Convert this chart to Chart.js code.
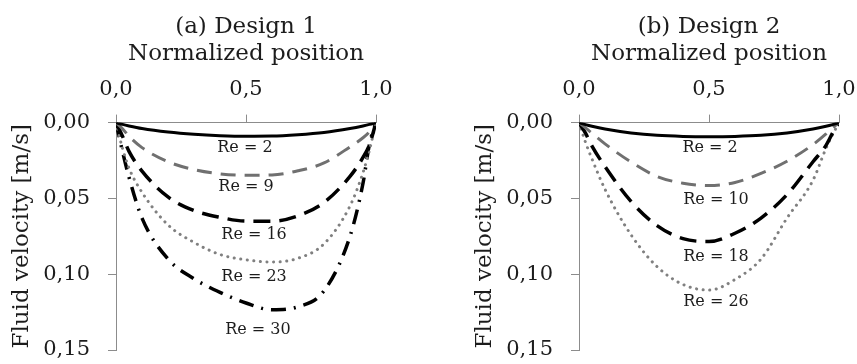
<!DOCTYPE html>
<html>
<head>
<meta charset="utf-8">
<script src="https://cdn.jsdelivr.net/npm/chart.js@4"></script>
<style>
  html, body { margin: 0; padding: 0; background: #fff; }
  #wrap { position: relative; width: 857px; height: 364px; overflow: hidden; }
  canvas { position: absolute; top: 0; }
  #chartA { left: 0; }
  #chartB { left: 430px; }
</style>
</head>
<body>
<div id="wrap">
  <canvas id="chartA" width="430" height="364"></canvas>
  <canvas id="chartB" width="427" height="364"></canvas>
</div>
<script>
const xPos = [0, 0.025, 0.05, 0.1, 0.2, 0.3, 0.4, 0.5, 0.6, 0.7, 0.8, 0.9, 0.95, 0.975, 1];
const xTicks = [0, 0.5, 1];
const yTicks = [0, 0.05, 0.10, 0.15];

// (a) Design 1
const d1Re2  = [0, 0.0012, 0.0022, 0.0039, 0.0062, 0.0077, 0.0086, 0.0090, 0.0089, 0.0080, 0.0065, 0.0039, 0.0022, 0.0012, 0];
const d1Re9  = [0, 0.0040, 0.0090, 0.0165, 0.0258, 0.0310, 0.0338, 0.0348, 0.0345, 0.0318, 0.0266, 0.0160, 0.0100, 0.0060, 0];
const d1Re16 = [0, 0.0090, 0.0190, 0.0320, 0.0490, 0.0580, 0.0625, 0.0650, 0.0650, 0.0615, 0.0527, 0.0355, 0.0230, 0.0145, 0];
const d1Re23 = [0, 0.0170, 0.0300, 0.0460, 0.0675, 0.0790, 0.0870, 0.0905, 0.0920, 0.0895, 0.0800, 0.0550, 0.0330, 0.0180, 0];
const d1Re30 = [0, 0.0190, 0.0360, 0.0630, 0.0900, 0.1030, 0.1120, 0.1190, 0.1235, 0.1215, 0.1110, 0.0750, 0.0400, 0.0140, 0];
const d1Names  = ['Re = 2', 'Re = 9', 'Re = 16', 'Re = 23', 'Re = 30'];
const d1LabelX = [0.496, 0.50, 0.531, 0.531, 0.546];
const d1LabelY = [0.0167, 0.0424, 0.074, 0.1018, 0.1367];

// (b) Design 2
const d2Re2  = [0, 0.0013, 0.0024, 0.0042, 0.0068, 0.0084, 0.0091, 0.0093, 0.0091, 0.0084, 0.0068, 0.0042, 0.0024, 0.0013, 0];
const d2Re10 = [0, 0.0035, 0.0070, 0.0140, 0.0260, 0.0355, 0.0400, 0.0415, 0.0395, 0.0335, 0.0255, 0.0145, 0.0075, 0.0035, 0];
const d2Re18 = [0, 0.0070, 0.0155, 0.0290, 0.0520, 0.0680, 0.0765, 0.0785, 0.0730, 0.0630, 0.0475, 0.0258, 0.0150, 0.0070, 0];
const d2Re26 = [0, 0.0130, 0.0240, 0.0440, 0.0740, 0.0950, 0.1068, 0.1105, 0.1035, 0.0900, 0.0630, 0.0380, 0.0170, 0.0080, 0];
const d2Names  = ['Re = 2', 'Re = 10', 'Re = 18', 'Re = 26'];
const d2LabelX = [0.504, 0.527, 0.527, 0.527];
const d2LabelY = [0.0167, 0.051, 0.0886, 0.1182];

Chart.defaults.font.family = "'DejaVu Serif', serif";
Chart.defaults.color = '#1c1c1c';

const styles = {
  solid:   { borderColor: '#000', borderWidth: 3, borderDash: [] },
  grayDash:{ borderColor: '#707070', borderWidth: 3, borderDash: [15, 9] },
  dash:    { borderColor: '#000', borderWidth: 3.5, borderDash: [17, 9] },
  dots:    { borderColor: '#808080', borderWidth: 3, borderDash: [0.1, 6.5], borderCapStyle: 'round' },
  dashDot: { borderColor: '#000', borderWidth: 3.5, borderDash: [15, 8, 2, 8] }
};

const reLabels = {
  id: 'reLabels',
  afterDatasetsDraw(chart, args, opts) {
    const { ctx, scales: { x, y } } = chart;
    ctx.save();
    ctx.font = '16px "DejaVu Serif"';
    ctx.fillStyle = '#1c1c1c';
    ctx.textAlign = 'center';
    ctx.textBaseline = 'middle';
    opts.text.forEach((t, i) => {
      ctx.fillText(t, x.getPixelForValue(opts.xs[i]), y.getPixelForValue(opts.ys[i]));
    });
    ctx.restore();
  }
};

function makeChart(id, title, series, styleList, names, lx, ly, padLeft, padRight) {
  const datasets = series.map((s, i) => Object.assign({
    label: names[i],
    data: xPos.map((x, j) => ({ x: x, y: s[j] })),
    pointRadius: 0,
    fill: false,
    cubicInterpolationMode: 'monotone'
  }, styles[styleList[i]]));

  return new Chart(document.getElementById(id), {
    type: 'line',
    data: { datasets: datasets },
    plugins: [reLabels],
    options: {
      responsive: false,
      animation: false,
      layout: { padding: { left: padLeft, right: padRight, top: 0, bottom: 14 } },
      plugins: {
        legend: { display: false },
        tooltip: { enabled: false },
        title: {
          display: true,
          text: title,
          fullSize: false,
          font: { size: 23, weight: 'normal' },
          padding: { top: 13, bottom: 0 },
          color: '#1c1c1c'
        },
        reLabels: { text: names, xs: lx, ys: ly }
      },
      scales: {
        x: {
          type: 'linear',
          position: 'top',
          min: 0,
          max: 1,
          afterBuildTicks: (s) => { s.ticks = xTicks.map(v => ({ value: v })); },
          afterFit: (s) => { s.height = 82; s.paddingLeft = 0; s.paddingRight = 0; },
          ticks: {
            padding: 12,
            font: { size: 21 },
            callback: (v) => v.toFixed(1).replace('.', ',')
          },
          grid: { drawOnChartArea: false, tickLength: 8, color: '#8c8c8c' },
          border: { color: '#8c8c8c', width: 1 },
          title: {
            display: true,
            text: 'Normalized position',
            font: { size: 23 },
            padding: { top: 0, bottom: 0 }
          }
        },
        y: {
          type: 'linear',
          reverse: true,
          min: 0,
          max: 0.15,
          afterBuildTicks: (s) => { s.ticks = yTicks.map(v => ({ value: v })); },
          afterFit: (s) => { s.width = 116; s.paddingTop = 0; s.paddingBottom = 0; },
          ticks: {
            padding: 18,
            font: { size: 21 },
            callback: (v) => v.toFixed(2).replace('.', ',')
          },
          grid: { drawOnChartArea: false, tickLength: 8, color: '#8c8c8c' },
          border: { color: '#8c8c8c', width: 1 },
          title: {
            display: true,
            text: 'Fluid velocity [m/s]',
            font: { size: 23 },
            padding: { top: 8, bottom: 0 }
          }
        }
      }
    }
  });
}

makeChart('chartA', '(a) Design 1',
  [d1Re2, d1Re9, d1Re16, d1Re23, d1Re30],
  ['solid', 'grayDash', 'dash', 'dots', 'dashDot'],
  d1Names, d1LabelX, d1LabelY, 0, 54);

makeChart('chartB', '(b) Design 2',
  [d2Re2, d2Re10, d2Re18, d2Re26],
  ['solid', 'grayDash', 'dash', 'dots'],
  d2Names, d2LabelX, d2LabelY, 33, 18);
</script>
</body>
</html>
